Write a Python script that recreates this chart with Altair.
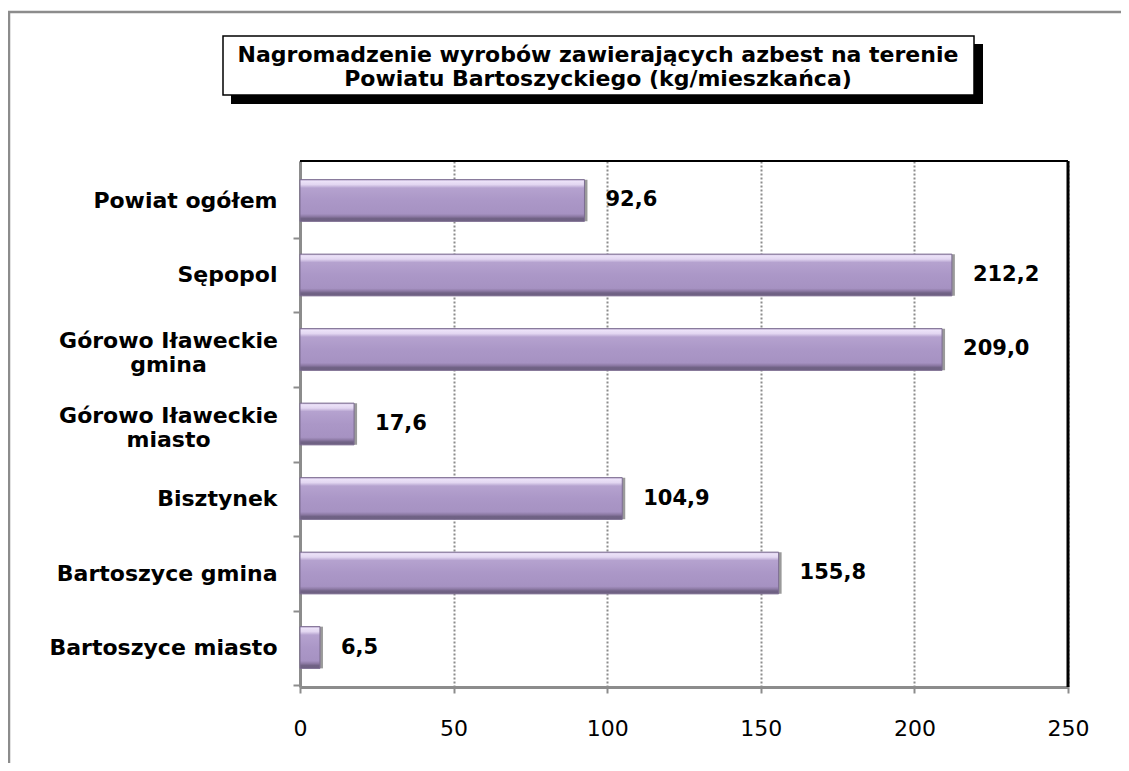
import altair as alt
import pandas as pd

# ---- data ----
categories = [
    "Powiat ogółem",
    "Sępopol",
    "Górowo Iławeckie\ngmina",
    "Górowo Iławeckie\nmiasto",
    "Bisztynek",
    "Bartoszyce gmina",
    "Bartoszyce miasto",
]
values = [92.6, 212.2, 209.0, 17.6, 104.9, 155.8, 6.5]
x_ticks = [0, 50, 100, 150, 200, 250]
title_lines = [
    "Nagromadzenie wyrobów zawierających azbest na terenie",
    "Powiatu Bartoszyckiego (kg/mieszkańca)",
]

df = pd.DataFrame({
    "category": categories,
    "value": values,
    "text": [f"{v:.1f}".replace(".", ",") for v in values],
})
one = pd.DataFrame({"k": [0]})

W, H = 768, 526
PAD = {"left": 292, "top": 153, "right": 53, "bottom": 76}
GREY = "#8c8c8c"
FONT = "DejaVu Sans"
multi = "indexof(datum.value, '\\n') >= 0"

y_enc = alt.Y(
    "category:N", sort=None,
    scale=alt.Scale(paddingInner=0.44, paddingOuter=0.25),
    axis=alt.Axis(
        title=None,
        labelExpr="split(datum.label, '\\n')",
        labelFont=FONT, labelFontWeight="bold", labelFontSize=22,
        labelColor="black", labelLineHeight=24, labelLimit=400,
        labelAlign={"condition": {"test": multi, "value": "center"}, "value": "right"},
        labelPadding={"condition": {"test": multi, "value": 125}, "value": 16},
        labelOffset={"condition": {"test": multi, "value": -46}, "value": -37.5},
        tickOffset=37.5,
        tickSize=7, tickColor=GREY, tickWidth=2,
        domainColor=GREY, domainWidth=3, grid=False,
    ),
)
x_enc = alt.X(
    "value:Q", scale=alt.Scale(domain=[0, 250], nice=False),
    axis=alt.Axis(
        title=None, values=x_ticks,
        labelFont=FONT, labelFontSize=22, labelColor="black",
        labelPadding=25, labelFlush=False,
        tickSize=6, tickColor=GREY, tickWidth=2,
        domainColor=GREY, domainWidth=3,
        grid=True, gridColor=GREY, gridDash=[2, 2], gridWidth=2,
    ),
)

bar_fill = alt.Gradient(
    gradient="linear", x1=0, x2=0, y1=0, y2=1,
    stops=[
        alt.GradientStop(offset=0.0, color="#c6b5dc"),
        alt.GradientStop(offset=0.04, color="#ece2f8"),
        alt.GradientStop(offset=0.12, color="#e2d6f1"),
        alt.GradientStop(offset=0.2, color="#b5a2cf"),
        alt.GradientStop(offset=0.5, color="#ab97c7"),
        alt.GradientStop(offset=0.82, color="#a692c2"),
        alt.GradientStop(offset=0.88, color="#8e7ba6"),
        alt.GradientStop(offset=0.93, color="#716386"),
        alt.GradientStop(offset=1.0, color="#6c5f80"),
    ],
)

bar_shadow = alt.Chart(df).mark_bar(color="#9a9a9a", xOffset=3, x2Offset=3).encode(x=x_enc, y=y_enc)
bars = alt.Chart(df).mark_bar(color=bar_fill, stroke="#7d6d92", strokeWidth=1).encode(x=x_enc, y=y_enc)
labels = alt.Chart(df).mark_text(
    align="left", baseline="middle", dx=21,
    font=FONT, fontWeight="bold", fontSize=21, color="black",
).encode(x=x_enc, y=y_enc, text="text:N")

# ---- decorative frame, plot border and title box ----
frame = alt.Chart(one).mark_rect(fill="transparent", stroke=GREY, strokeWidth=2.5).encode(
    x=alt.value(-291), x2=alt.value(W + PAD["right"] + 40),
    y=alt.value(-149), y2=alt.value(H + PAD["bottom"] + 40),
)
border_top = alt.Chart(one).mark_rule(color="black", strokeWidth=2).encode(
    x=alt.value(0), x2=alt.value(W), y=alt.value(0)
)
border_right = alt.Chart(one).mark_rule(color="black", strokeWidth=3).encode(
    x=alt.value(W), y=alt.value(0), y2=alt.value(H)
)
title_shadow = alt.Chart(one).mark_rect(color="black").encode(
    x=alt.value(-69), x2=alt.value(683), y=alt.value(-117), y2=alt.value(-57)
)
title_box = alt.Chart(one).mark_rect(fill="white", stroke="black", strokeWidth=1.5).encode(
    x=alt.value(-77), x2=alt.value(674), y=alt.value(-125), y2=alt.value(-66)
)
title_text = alt.Chart(one).mark_text(
    font=FONT, fontWeight="bold", fontSize=22, lineHeight=24,
    align="center", baseline="middle", color="black",
).encode(x=alt.value(298), y=alt.value(-106), text=alt.value(title_lines))

chart = alt.layer(
    bar_shadow, bars, labels, frame, border_top, border_right,
    title_shadow, title_box, title_text,
).properties(
    width=W, height=H, padding=PAD,
    autosize=alt.AutoSizeParams(type="none"),
).configure_view(stroke="transparent")

chart.save("out.html", embed_options={"renderer": "svg", "actions": False})
